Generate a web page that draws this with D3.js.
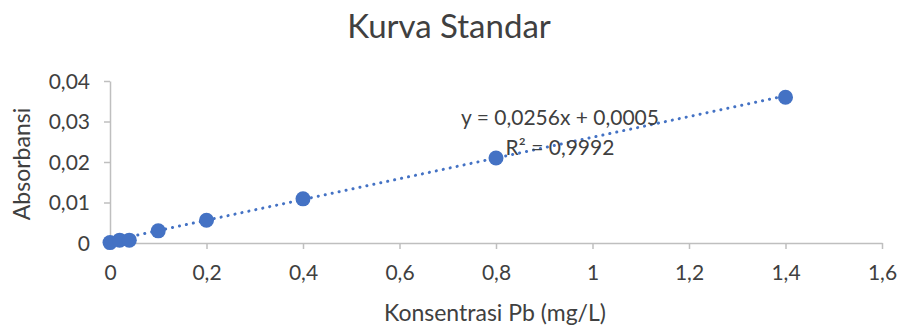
<!DOCTYPE html>
<html>
<head>
<meta charset="utf-8">
<script src="https://cdn.jsdelivr.net/npm/d3@7"></script>
<style>
  body { margin: 0; background: #fff; }
  text { font-family: Lato, "Open Sans", sans-serif; fill: #404040; }
</style>
</head>
<body>
<div id="chart"></div>
<script>
// data
const konsentrasi = [0, 0.02, 0.04, 0.1, 0.2, 0.4, 0.8, 1.4]
const absorbansi = [0.0001, 0.0007, 0.0007, 0.003, 0.0056, 0.0109, 0.021, 0.036]
const xTicks = [0, 0.2, 0.4, 0.6, 0.8, 1, 1.2, 1.4, 1.6]
const yTicks = [0, 0.01, 0.02, 0.03, 0.04]
const slope = 0.0256
const intercept = 0.0005
const eqLines = ['y = 0,0256x + 0,0005', 'R² = 0,9992']

const width = 898
const height = 327
const margin = { top: 81, right: 16, bottom: 84, left: 110 }
const blue = '#4472C4'

const svg = d3
  .select('#chart')
  .append('svg')
  .attr('width', width)
  .attr('height', height)

const x = d3.scaleLinear().domain([0, 1.6]).range([margin.left, width - margin.right])
const y = d3.scaleLinear().domain([0, 0.04]).range([height - margin.bottom, margin.top])

const fmt = (d) => String(d).replace('.', ',')

// axes
const xAxis = svg
  .append('g')
  .attr('transform', `translate(0,${y(0)})`)
  .call(d3.axisBottom(x).tickValues(xTicks).tickSize(6).tickSizeOuter(0).tickFormat(fmt))
const yAxis = svg
  .append('g')
  .attr('transform', `translate(${x(0)},0)`)
  .call(d3.axisLeft(y).tickValues(yTicks).tickSize(6).tickSizeOuter(0).tickFormat(fmt))

;[xAxis, yAxis].forEach((a) => {
  a.select('.domain').attr('stroke', '#bfbfbf').attr('stroke-width', 1.5)
  a.selectAll('.tick line').attr('stroke', '#bfbfbf').attr('stroke-width', 1.5)
  a.selectAll('.tick text')
    .attr('font-size', 21)
    .attr('font-family', 'Lato, "Open Sans", sans-serif')
    .attr('fill', '#404040')
})
xAxis.selectAll('.tick text').attr('y', 22).attr('dy', '0.71em')
yAxis.selectAll('.tick text').attr('x', -20).attr('dy', '0.35em')

// trendline
const trend = [0, 1.4].map((v) => [v, slope * v + intercept])
svg
  .append('path')
  .datum(trend)
  .attr('fill', 'none')
  .attr('stroke', blue)
  .attr('stroke-width', 3)
  .attr('stroke-linecap', 'round')
  .attr('stroke-dasharray', '0.1 7')
  .attr('d', d3.line().x((d) => x(d[0])).y((d) => y(d[1])))

// points
svg
  .append('g')
  .selectAll('circle')
  .data(konsentrasi.map((k, i) => ({ k: k, a: absorbansi[i] })))
  .join('circle')
  .attr('cx', (d) => x(d.k))
  .attr('cy', (d) => y(d.a))
  .attr('r', 7.5)
  .attr('fill', blue)

// equation
svg
  .append('text')
  .attr('x', 560)
  .attr('y', 125)
  .attr('text-anchor', 'middle')
  .attr('font-size', 21)
  .text(eqLines[0])
svg
  .append('text')
  .attr('x', 560)
  .attr('y', 155)
  .attr('text-anchor', 'middle')
  .attr('font-size', 21)
  .text(eqLines[1])

// titles
svg
  .append('text')
  .attr('x', 449)
  .attr('y', 38)
  .attr('text-anchor', 'middle')
  .attr('font-size', 33)
  .text('Kurva Standar')
svg
  .append('text')
  .attr('x', 495)
  .attr('y', 321)
  .attr('text-anchor', 'middle')
  .attr('font-size', 23)
  .text('Konsentrasi Pb (mg/L)')
svg
  .append('text')
  .attr('transform', 'translate(30,164) rotate(-90)')
  .attr('text-anchor', 'middle')
  .attr('font-size', 23)
  .text('Absorbansi')
</script>
</body>
</html>
